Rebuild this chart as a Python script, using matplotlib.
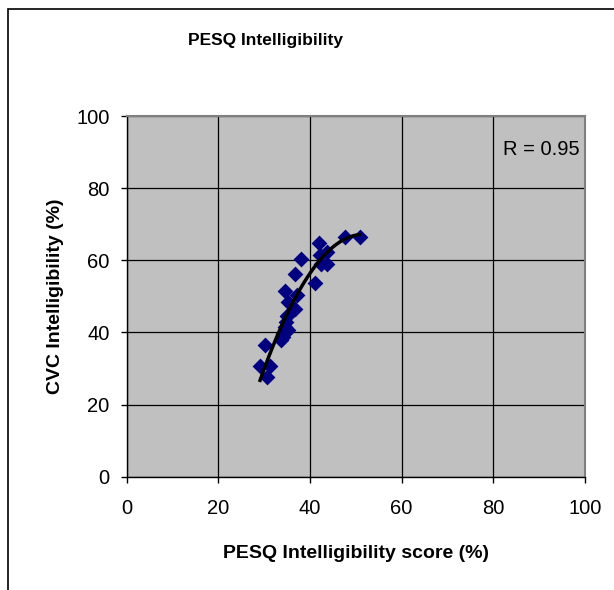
import numpy as np
import matplotlib
matplotlib.use("Agg")
import matplotlib.pyplot as plt
from matplotlib.patches import Rectangle

plt.rcParams['font.family'] = ['Liberation Sans', 'DejaVu Sans']

# PESQ intelligibility score (%) vs CVC intelligibility (%)
pesq = [29.1, 30.2, 31.3, 30.6, 33.6, 34.2, 35.3, 34.5, 34.9, 35.3, 34.6, 35.3,
        36.7, 37.2, 36.7, 38.0, 41.1, 41.9, 42.2, 42.5, 43.7, 43.8, 47.6, 50.8,
        34.0, 34.8]
cvc = [30.6, 36.5, 30.6, 27.6, 37.8, 38.6, 40.6, 41.6, 44.6, 48.4, 51.6, 44.9,
       46.5, 50.5, 56.1, 60.4, 53.8, 64.9, 61.6, 59.0, 59.1, 62.3, 66.5, 66.5,
       39.5, 42.8]
r_text = "R = 0.95"
ticks = [0, 20, 40, 60, 80, 100]

fig = plt.figure(figsize=(6.14, 5.90), dpi=100)
# chart area border (cut off at right and bottom as in the source)
fig.patches.append(Rectangle((8 / 614, -0.1), 1.2, 1 - 9 / 590 + 0.1,
                             transform=fig.transFigure, fill=False,
                             edgecolor='black', linewidth=1.2))

ax = fig.add_axes([126.7 / 614, 1 - 476.7 / 590, (585 - 126.7) / 614, (476.7 - 116) / 590])
ax.set_facecolor('#C0C0C0')

ax.scatter(pesq, cvc, marker='D', s=65, color='#000080', zorder=3, linewidths=0)

# 2nd order polynomial trendline
coef = np.polyfit(pesq, cvc, 2)
xs = np.linspace(min(pesq), max(pesq), 100)
ax.plot(xs, np.polyval(coef, xs), color='black', linewidth=2.5, zorder=4)

ax.set_xlim(0, 100)
ax.set_ylim(0, 100)
ax.set_xticks(ticks)
ax.set_yticks(ticks)
ax.grid(True, color='black', linewidth=0.9)
ax.set_axisbelow(True)
ax.tick_params(direction='out', length=4.3, width=1, labelsize=14.5)
ax.tick_params(axis='x', pad=12)
ax.tick_params(axis='y', pad=8)
for s in ['top', 'right']:
    ax.spines[s].set_color('#808080')
    ax.spines[s].set_linewidth(1.5)
for s in ['left', 'bottom']:
    ax.spines[s].set_linewidth(1)

ax.text(0.989, 0.892, r_text, transform=ax.transAxes, ha='right', va='baseline', fontsize=14.5)

fig.text(266 / 614, 1 - 45 / 590, "PESQ Intelligibility", ha='center', va='baseline',
         fontsize=12.5, fontweight='bold')
ax.set_xlabel("PESQ Intelligibility score (%)", fontsize=14, fontweight='bold', labelpad=19)
ax.set_ylabel("CVC Intelligibility (%)", fontsize=14, fontweight='bold', labelpad=9)

fig.savefig("out.png", dpi=100)
